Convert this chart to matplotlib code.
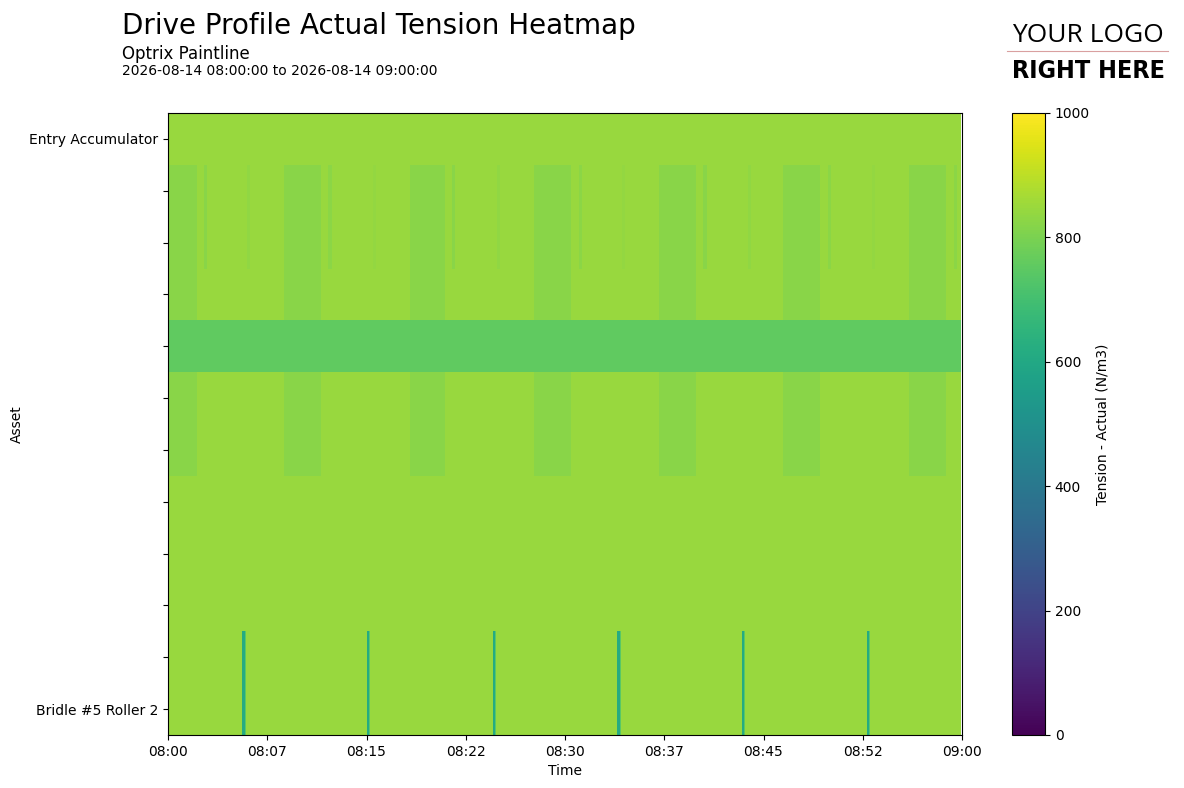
import numpy as np
import pandas as pd
import matplotlib as m
m.use('Agg')
import matplotlib.pyplot as plt
import matplotlib.dates as mdates

# assets, top to bottom (only first and last are labelled on the chart)
assets = ['Entry Accumulator'] + [''] * 10 + ['Bridle #5 Roller 2']

# baseline tension for each asset row (N/m3)
row_base = [847, 847, 847, 847, 755, 847, 847, 847, 847, 847, 847, 847]

# rows that show the slow cycle blocks, and the blocks (seconds from 08:00)
block_rows = [1, 2, 3, 5, 6]
block_level = 822
block_start = [-40, 526, 1097, 1659, 2226, 2788, 3360]
block_end = [131, 694, 1260, 1827, 2394, 2956, 3527]

# short dips in rows 1-2 (seconds from 08:00)
dip_rows = [1, 2]
dip_start = [162, 360, 726, 930, 1286, 1494, 1862, 2060, 2430, 2628, 2992, 3192, 3562]
dip_level = [824, 834, 826, 836, 824, 834, 826, 836, 824, 834, 826, 836, 826]

# spikes in the bottom rows
spike_rows = [10, 11]
spike_time = [340, 905, 1473, 2040, 2605, 3170]
spike_low = 610
spike_tail = 740

step = 5
t_sec = np.arange(0, 3600, step)

grid = np.array([np.full(len(t_sec), float(v)) for v in row_base])
for r in block_rows:
    for s, e in zip(block_start, block_end):
        grid[r, (t_sec >= s) & (t_sec < e)] = block_level
for r in dip_rows:
    for s, lv in zip(dip_start, dip_level):
        grid[r, (t_sec >= s) & (t_sec < s + 15)] = lv
for r in spike_rows:
    for s in spike_time:
        grid[r, (t_sec >= s) & (t_sec < s + 10)] = spike_low
        grid[r, (t_sec >= s + 10) & (t_sec < s + 15)] = spike_tail

start = pd.Timestamp('2026-08-14 08:00:00')
end = pd.Timestamp('2026-08-14 09:00:00')
times = start + pd.to_timedelta(t_sec, unit='s')


def main():
    fig = plt.figure(figsize=(11.84, 7.88), dpi=100)
    W, H = 1184.0, 788.0
    ax = fig.add_axes([168 / W, 1 - 735 / H, 794 / W, 622 / H])
    cax = fig.add_axes([1012 / W, 1 - 735 / H, 33 / W, 622 / H])

    x = mdates.date2num(times)
    y = np.arange(len(assets))
    mesh = ax.pcolormesh(x, y, grid, cmap='viridis', vmin=0, vmax=1000,
                         shading='nearest')
    ax.set_xlim(mdates.date2num(start), mdates.date2num(end))
    ax.set_ylim(len(assets) - 0.5, -0.5)

    ticks = pd.date_range(start, end, periods=9)
    ax.set_xticks(mdates.date2num(ticks))
    ax.xaxis.set_major_formatter(mdates.DateFormatter('%H:%M'))
    ax.set_yticks(y)
    ax.set_yticklabels(assets)
    ax.set_xlabel('Time')
    ax.set_ylabel('Asset')

    cb = fig.colorbar(mesh, cax=cax)
    cb.set_label('Tension - Actual (N/m3)')
    cb.set_ticks([0, 200, 400, 600, 800, 1000])

    fig.text(122 / W, 1 - 26 / H, 'Drive Profile Actual Tension Heatmap',
             fontsize=20, va='center', ha='left')
    fig.text(122 / W, 1 - 54 / H, 'Optrix Paintline', fontsize=12,
             va='center', ha='left')
    fig.text(122 / W, 1 - 71 / H,
             '2026-08-14 08:00:00 to 2026-08-14 09:00:00', fontsize=10,
             va='center', ha='left')

    # logo placeholder
    fig.text(1088 / W, 1 - 36 / H, 'YOUR LOGO', fontsize=19, ha='center',
             va='center', family=['Open Sans', 'DejaVu Sans'])
    fig.add_artist(plt.Line2D([1007 / W, 1168 / W], [1 - 51 / H, 1 - 51 / H],
                              color='#d9a0a0', lw=0.8))
    fig.text(1088 / W, 1 - 71 / H, 'RIGHT HERE', fontsize=18, ha='center',
             va='center', fontweight='bold', fontstretch='condensed',
             family=['DejaVu Sans'])

    plt.savefig('out.png', dpi=100)


if __name__ == '__main__':
    main()
